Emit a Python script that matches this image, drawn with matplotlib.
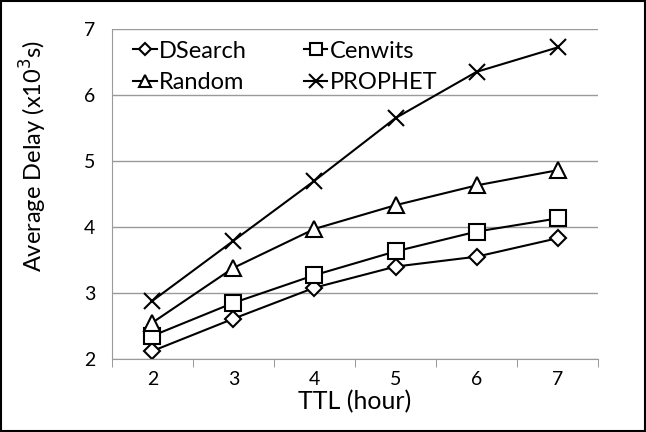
import matplotlib
matplotlib.use('Agg')
import matplotlib.pyplot as plt
from matplotlib.patches import Rectangle

ttl = [2, 3, 4, 5, 6, 7]
dsearch = [2.12, 2.61, 3.08, 3.40, 3.55, 3.83]
cenwits = [2.35, 2.85, 3.27, 3.63, 3.93, 4.13]
random_ = [2.55, 3.38, 3.97, 4.33, 4.63, 4.86]
prophet = [2.88, 3.79, 4.70, 5.65, 6.35, 6.72]

plt.rcParams['font.family'] = ['Lato', 'DejaVu Sans']

fig = plt.figure(figsize=(6.46, 4.32), dpi=100)
ax = fig.add_axes([0.173, 0.169, 0.753, 0.764])

series = [
    ('DSearch', dsearch, 'D', 8),
    ('Cenwits', cenwits, 's', 11),
    ('Random', random_, '^', 11),
    ('PROPHET', prophet, 'x', 12),
]
lines = {}
for name, vals, mk, ms in series:
    lines[name], = ax.plot(ttl, vals, color='black', lw=1.5, marker=mk, markersize=ms,
                           markerfacecolor='white', markeredgecolor='black',
                           markeredgewidth=1.5, label=name)

ax.set_xlim(1.5, 7.5)
ax.set_ylim(2, 7)
ax.set_yticks([2, 3, 4, 5, 6, 7])
ax.set_xticks(ttl)
ax.set_xticks([1.5, 2.5, 3.5, 4.5, 5.5, 6.5, 7.5], minor=True)
ax.tick_params(axis='x', which='major', length=0, labelsize=14, pad=9)
ax.tick_params(axis='x', which='minor', length=6, color='#888888', direction='out')
ax.tick_params(axis='y', length=0, labelsize=14, pad=12)
ax.grid(axis='y', color='#9a9a9a', lw=1)
ax.set_axisbelow(True)
for s in ['top', 'right']:
    ax.spines[s].set_visible(False)
ax.spines['left'].set_color('#9a9a9a')
ax.spines['bottom'].set_color('#9a9a9a')

ax.set_xlabel('TTL (hour)', fontsize=18, labelpad=1)
ax.set_ylabel('Average Delay (x10$^3$s)', fontsize=17)
ax.yaxis.set_label_coords(-0.13, 0.615)

# column-first fill: DSearch/Random in col 1, Cenwits/PROPHET in col 2
order = ['DSearch', 'Random', 'Cenwits', 'PROPHET']
ax.legend([lines[n] for n in order], order, loc='upper left', ncol=2,
          frameon=False, fontsize=17, handlelength=1.0, handletextpad=0.1,
          columnspacing=2.4, labelspacing=0.45, borderaxespad=0.1,
          markerscale=0.8, bbox_to_anchor=(0.02, 1.0))

fig.patches.append(Rectangle((0.002, 0.002), 0.996, 0.996, transform=fig.transFigure,
                             fill=False, edgecolor='black', lw=1.5))

fig.savefig('out.png', dpi=100)
